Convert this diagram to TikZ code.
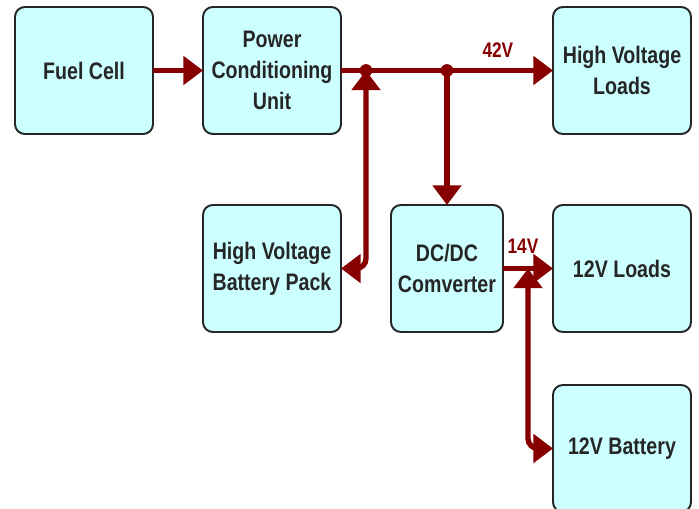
\documentclass[tikz,border=0pt]{standalone}
\usepackage{fontspec}
\setmainfont{Liberation Sans}[FakeStretch=0.82]
\usepackage{xcolor}
\usetikzlibrary{shapes,arrows.meta,positioning}
\definecolor{wire}{RGB}{135,0,0}
\definecolor{boxfill}{RGB}{204,255,255}

\begin{document}
\begin{tikzpicture}[
  node distance=1.25cm,
  box/.style={rectangle, rounded corners=7pt, draw=black!85, line width=1.4pt, fill=boxfill, align=center, minimum width=3.45cm, minimum height=3.175cm, font=\fontsize{17}{22}\selectfont\bfseries, text=black!85, inner sep=2pt, outer sep=0pt},
  arr/.style={-{Triangle[length=14pt, width=20pt]}, line width=3.8pt, draw=wire},
  biarr/.style={{Triangle[length=14pt, width=20pt]}-{Triangle[length=14pt, width=20pt]}, line width=3.8pt, draw=wire, rounded corners=0.25cm},
  volt/.style={font=\fontsize{15}{17}\selectfont\bfseries, text=wire, inner sep=1pt}
]
\useasboundingbox (-2.1,1.7625) rectangle (15.375,-10.9375);
\node[box] (a) at (0,0) {Fuel Cell};
\node[box, right=of a] (b) {Power\\Conditioning\\Unit};
\node[box, right=5.3cm of b] (c) {High Voltage\\Loads};
\node[box, below=1.775cm of b] (d) {High Voltage\\Battery Pack};
\node[box, right=of d, minimum width=2.8cm] (e) {DC/DC\\Comverter};
\node[box, right=of e] (f) {12V Loads};
\node[box, below=1.325cm of f] (g) {12V Battery};
% junctions on the bus
\coordinate[right=0.625cm of b.east] (j1);
\coordinate (j2) at (e.north |- b.east);
\coordinate[right=0.625cm of e.east] (j3);
\draw[arr] (a) -- (b);
\draw[arr] (b) -- node[volt, above=6pt, pos=0.74] (v42) {42V} (c);
\draw[arr] (j2) -- (e);
\draw[biarr] (j1) |- (d.east);
\draw[arr] (e) -- node[volt, above=8pt, pos=0.4] (v14) {14V} (f);
\draw[biarr] (j3) |- (g.west);
\fill[wire] (j1) circle (0.16cm) (j2) circle (0.16cm);
\end{tikzpicture}
\end{document}
